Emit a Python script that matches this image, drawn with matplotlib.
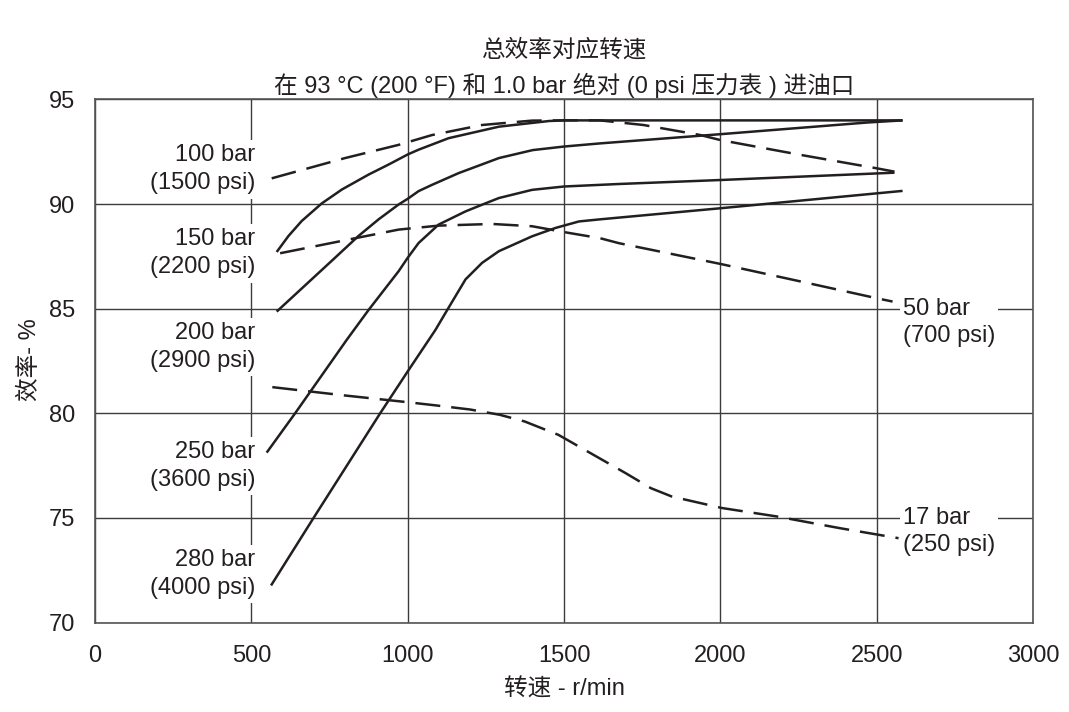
import matplotlib
matplotlib.use("Agg")
import matplotlib.pyplot as plt

plt.rcParams['font.family'] = ['Liberation Sans', 'Noto Sans CJK SC', 'DejaVu Sans']

INK = '#231f20'
GRID = '#3c3c3c'

# Overall efficiency curves (solid) and constant-pressure curves (dashed)
rpm_a = [581, 619, 661, 725, 790, 875, 939, 1000, 1035, 1131, 1292, 1452, 1500, 2000, 2583]
eff_a = [87.71, 88.48, 89.19, 90.03, 90.70, 91.41, 91.89, 92.37, 92.6, 93.15, 93.70, 93.97, 94.0, 94.0, 94.0]

rpm_b = [581, 763, 843, 907, 971, 1000, 1035, 1078, 1163, 1233, 1292, 1400, 1500, 1615, 2000, 2471, 2583]
eff_b = [84.86, 87.37, 88.48, 89.27, 89.98, 90.25, 90.62, 90.92, 91.48, 91.87, 92.2, 92.58, 92.75, 92.9, 93.34, 93.9, 94.0]

rpm_c = [549, 640, 805, 875, 971, 1000, 1035, 1099, 1185, 1238, 1292, 1398, 1500, 1676, 2000, 2557]
eff_c = [78.12, 80.0, 83.51, 84.94, 86.79, 87.43, 88.14, 89.02, 89.65, 89.97, 90.29, 90.68, 90.84, 90.96, 91.15, 91.5]

rpm_d = [563, 699, 912, 1000, 1089, 1121, 1153, 1185, 1238, 1292, 1398, 1473, 1548, 1615, 2000, 2583]
eff_d = [71.77, 75.0, 80.0, 82.0, 83.99, 84.8, 85.6, 86.40, 87.19, 87.75, 88.46, 88.86, 89.17, 89.27, 89.8, 90.63]

rpm_100 = [565, 800, 971, 1078, 1238, 1398, 1500, 1615, 1754, 1936, 2000, 2257, 2500, 2557]
eff_100 = [91.23, 92.2, 92.83, 93.30, 93.78, 93.99, 94.0, 94.0, 93.78, 93.3, 93.06, 92.35, 91.71, 91.55]

rpm_150 = [592, 843, 971, 1099, 1270, 1398, 1516, 1615, 1676, 2000, 2257, 2500, 2551]
eff_150 = [87.65, 88.4, 88.78, 88.97, 89.05, 88.94, 88.62, 88.37, 88.13, 87.14, 86.3, 85.5, 85.34]

rpm_17 = [567, 800, 1000, 1100, 1200, 1294, 1374, 1482, 1576, 1697, 1778, 1845, 2006, 2180, 2382, 2570]
eff_17 = [81.25, 80.85, 80.53, 80.36, 80.18, 79.93, 79.61, 78.97, 78.17, 77.14, 76.42, 76.02, 75.47, 75.07, 74.51, 74.03]

# Pressure labels
left_labels = ["100 bar\n(1500 psi)", "150 bar\n(2200 psi)", "200 bar\n(2900 psi)",
               "250 bar\n(3600 psi)", "280 bar\n(4000 psi)"]
left_label_eff = [91.66, 87.64, 83.17, 77.49, 72.33]
right_labels = ["50 bar\n(700 psi)", "17 bar\n(250 psi)"]
right_label_eff = [84.32, 74.36]

x_ticks = [0, 500, 1000, 1500, 2000, 2500, 3000]
y_ticks = [70, 75, 80, 85, 90, 95]

title1 = "总效率对应转速"
title2 = "在 93 °C (200 °F) 和 1.0 bar 绝对 (0 psi 压力表 ) 进油口"
xlabel = "转速 - r/min"
ylabel = "效率- %"

fig = plt.figure(figsize=(10.69, 7.12), dpi=100)
ax = fig.add_axes([0.0889, 0.1257, 0.8774, 0.7346])

ax.set_xlim(0, 3000)
ax.set_ylim(70, 95)
ax.set_xticks(x_ticks)
ax.set_yticks(y_ticks)
ax.tick_params(length=0, labelsize=17, colors=INK)
ax.tick_params(axis='x', pad=16)
ax.tick_params(axis='y', pad=14)
for s in ax.spines.values():
    s.set_color('#555555')
    s.set_linewidth(1.2)
ax.grid(True, color=GRID, linewidth=1.0, zorder=1)
ax.set_axisbelow(True)

lw = 1.8
dash = (0, (10, 4.4))
for r, e in [(rpm_a, eff_a), (rpm_b, eff_b), (rpm_c, eff_c), (rpm_d, eff_d)]:
    ax.plot(r, e, color=INK, lw=lw, solid_joinstyle='round', solid_capstyle='butt', zorder=3)
for r, e in [(rpm_100, eff_100), (rpm_150, eff_150), (rpm_17, eff_17)]:
    ax.plot(r, e, color=INK, lw=lw, linestyle=dash, dash_joinstyle='round', zorder=3)

box = dict(facecolor='white', edgecolor='none', pad=3)
for txt, yv in zip(left_labels, left_label_eff):
    ax.text(513, yv, txt, ha='right', va='center', multialignment='right',
            fontsize=17, color=INK, linespacing=1.35, bbox=box, zorder=2)
for txt, yv in zip(right_labels, right_label_eff):
    ax.text(2585, yv, txt, ha='left', va='center', multialignment='left',
            fontsize=17, color=INK, linespacing=1.3,
            bbox=dict(facecolor='white', edgecolor='none', pad=2), zorder=2)

fig.text(0.528, 0.929, title1, ha='center', va='center', fontsize=17, color=INK)
fig.text(0.528, 0.8806, title2, ha='center', va='center', fontsize=17, color=INK)
fig.text(0.528, 0.031, xlabel, ha='center', va='center', fontsize=17, color=INK)
fig.text(0.028, 0.495, ylabel, ha='center', va='center', rotation=90, fontsize=17, color=INK)

fig.savefig("out.png", dpi=100, facecolor='white')
